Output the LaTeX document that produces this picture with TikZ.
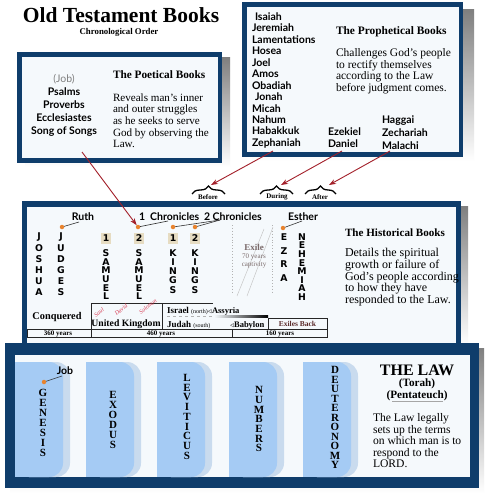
\documentclass[tikz,border=0pt]{standalone}
\usepackage{fontspec}
\setmainfont{Liberation Serif}
\newfontfamily\sansf{Lato}
\newfontfamily\dejaf{DejaVu Sans}
\usetikzlibrary{arrows.meta,decorations.pathreplacing}
\definecolor{navy}{HTML}{0F3D6B}
\definecolor{panel}{HTML}{F5F9FC}
\definecolor{shade}{HTML}{2E2E2E}
\definecolor{arrowred}{HTML}{A3202A}
\definecolor{dotc}{HTML}{E8832E}
\definecolor{tabdark}{HTML}{A5CBF4}
\definecolor{tablight}{HTML}{C9DBEE}
\definecolor{redname}{HTML}{D8374F}
\definecolor{exilec}{HTML}{7A6A6A}
\definecolor{beige}{HTML}{E6DCC2}
\definecolor{exback}{HTML}{5B2B2B}
\newcommand\fs[1]{\fontsize{#1}{#1}\selectfont}
\newcommand\lineset[6]{\foreach \lx [count=\i] in {#6} {\node[#2] (#1\i) at (#3,{#4+(\i-1)*#5}) {\lx};}}
\begin{document}
\begin{tikzpicture}[x=1pt,y=-1pt,
 every node/.style={inner sep=0pt,outer sep=0pt},
 nm/.style={anchor=base,font=\sansf\bfseries\fs{10.5}},
 nml/.style={anchor=base west,font=\sansf\bfseries\fs{10.5}},
 hl/.style={font=\dejaf\bfseries\fs{9.3}},
 ll/.style={font=\bfseries\fs{11}},
 head/.style={anchor=base west,font=\bfseries\fs{#1}},
 desc/.style={anchor=base west,font=\fs{#1}},
 lbl/.style={font=\bfseries\fs{7}},
 dot/.style={circle,fill=dotc,minimum size=4.5pt},
 link/.style={draw=black!80,line width=0.6pt},
 redarrow/.style={draw=arrowred,line width=0.9pt,-{Stealth[length=7pt,width=5pt]}},
 brc/.style={decorate,decoration={brace,amplitude=8pt},line width=1.3pt},
 tbl/.style={draw=black!85,line width=0.6pt},
 yrs/.style={anchor=base,font=\bfseries\fs{7}},
 redn/.style={font=\itshape\fs{5.8},text=redname,rotate=38},
 numbox/.style={fill=beige,minimum width=10pt,minimum height=11pt,font=\dejaf\bfseries\fs{9.3}}
]
\useasboundingbox (0,0) rectangle (491,500);
\fill[white] (0,0) rectangle (491,500);

% title
\node[font=\bfseries\fs{21.5}] (title) at (121,15) {Old Testament Books};
\node[font=\bfseries\fs{8.8}] (sub) at (119,32) {Chronological Order};

% poetical box
\fill[shade] (25,58) rectangle (230,167);
\fill[navy] (17,52) rectangle (222,163);
\fill[panel] (22,57) rectangle (218,158);
\node[anchor=base,font=\sansf\fs{10.5},text=gray] (job1) at (64,82.5) {(Job)};
\lineset{poe}{nm}{64}{95.5}{13}{Psalms,Proverbs,Ecclesiastes,Song of Songs}
\node[head=11.3] (poeh) at (113,79) {The Poetical Books};
\lineset{poed}{desc=11.1}{113}{101.5}{11.5}{Reveals man’s inner,and outer struggles,as he seeks to serve,God by observing the,Law.}
\coordinate (poeA) at (82,152);

% prophetical box
\fill[shade] (252,10) rectangle (474,161);
\fill[navy] (242,2) rectangle (463,157);
\fill[panel] (247,7) rectangle (459,152);
\lineset{pro}{nml}{252}{20.5}{11.45}{\hspace{3pt}Isaiah,Jeremiah,Lamentations,Hosea,Joel,Amos,Obadiah,\hspace{3pt}Jonah,Micah,Nahum,Habakkuk,Zephaniah}
\node[head=11.4] (proh) at (336,35) {The Prophetical Books};
\lineset{prod}{desc=11.5}{336}{56.5}{11.6}{Challenges God’s people,to rectify themselves,according to the Law,before judgment comes.}
\lineset{durn}{nml}{328}{135.5}{12}{Ezekiel,Daniel}
\lineset{aftn}{nml}{382}{123.5}{13}{Haggai,Zechariah,Malachi}
\coordinate (proA) at (273,151);
\coordinate (durA) at (342,151);
\coordinate (aftA) at (390,151);

% braces
\draw[brc] (192,194) -- (225,194);
\node[lbl] (lbBef) at (208,197.5) {Before};
\draw[brc] (260,194) -- (293,194);
\node[lbl] (lbDur) at (277,197) {During};
\draw[brc] (305,194) -- (336,194);
\node[lbl] (lbAft) at (320,197.5) {After};
\coordinate (tBef) at (211,185);
\coordinate (tDur) at (281,185);
\coordinate (tAft) at (329,185);

% historical box
\fill[shade] (27,206) rectangle (468,345);
\fill[navy] (22,201) rectangle (461,345);
\fill[panel] (27,207) rectangle (456,345);

\node[anchor=base,font=\sansf\bfseries\fs{10.5}] (ruth) at (83,220.5) {Ruth};
\node[anchor=base west,font=\sansf\bfseries\fs{10.5}] (chr1) at (139,220.5) {1\ \ Chronicles};
\node[anchor=base west,font=\sansf\bfseries\fs{10.5}] (chr2) at (204,220.5) {2 Chronicles};
\node[anchor=base,font=\sansf\bfseries\fs{10.5}] (esth) at (303,220.5) {Esther};
\node[dot] (dRuth) at (62,227) {};
\node[dot] (dSam) at (138,227) {};
\node[dot] (dK1) at (173,227) {};
\node[dot] (dK2) at (195,227) {};
\node[dot] (dEst) at (283,228) {};
\coordinate (cRuth) at (79,222);
\coordinate (cChr1) at (168,221);
\coordinate (cChr2) at (220,220);
\coordinate (cEst) at (302,221);
\draw[link] (dRuth) -- (cRuth);
\draw[link] (dSam) -- (cChr1);
\draw[link] (dK1) -- (cChr2);
\draw[link] (dK2) -- (cChr2);
\draw[link] (dEst) -- (cEst);

\lineset{josh}{hl}{39}{237}{11}{J,O,S,H,U,A}
\lineset{judg}{hl}{61}{237}{11}{J,U,D,G,E,S}
\node[numbox] (n1s) at (106,238) {1};
\lineset{sama}{hl}{106}{253}{8.7}{S,A,M,U,E,L}
\node[numbox] (n2s) at (139,238) {2};
\lineset{samb}{hl}{139}{253}{8.7}{S,A,M,U,E,L}
\node[numbox] (n1k) at (173,238) {1};
\lineset{kina}{hl}{173}{253}{9.2}{K,I,N,G,S}
\node[numbox] (n2k) at (195,238) {2};
\lineset{kinb}{hl}{195}{253}{9.2}{K,I,N,G,S}
\lineset{ezra}{hl}{284}{237}{13.8}{E,Z,R,A}
\lineset{nehe}{hl}{302}{237}{8.6}{N,E,H,E,M,I,A,H}

% exile
\draw[gray!60,dotted,line width=0.9pt] (232,225) -- (232,293);
\draw[gray!60,dotted,line width=0.9pt] (272,225) -- (272,293);
\draw[gray!45,line width=0.5pt] (237,296) -- (264,229);
\draw[gray!45,line width=0.5pt] (247,296) -- (273,227);
\node[font=\bfseries\fs{9},text=exilec] (exile) at (254,247) {Exile};
\node[font=\fs{7},text=exilec] (ex70) at (254,257) {70 years};
\node[font=\fs{7},text=exilec] (excap) at (254,265) {captivity};

\node[head=11.1] (hish) at (345,236) {The Historical Books};
\lineset{hisd}{desc=12}{345}{256.5}{11.8}{Details the spiritual,growth or failure of,God’s people according,to how they have,responded to the Law.}

% table
\node[anchor=base,font=\bfseries\fs{10.3}] (conq) at (57,319.5) {Conquered};
\draw[tbl] (91,329) -- (91,303) -- (213,303);
\draw[tbl] (162,303) -- (162,329);
\node[anchor=base,font=\bfseries\fs{9.7}] (uk) at (126,326) {United Kingdom};
\node[redn] (saul) at (99,312.5) {Saul};
\node[redn] (david) at (121,310) {David};
\node[redn] (solo) at (148,306.5) {Solomon};
\node[anchor=base west,font=\bfseries\fs{9}] (isr) at (167,313) {Israel {\mdseries\fs{6}(north)}{\fs{7}$\triangleleft$}{\fs{8.5}Assyria}};
\draw[gray!60,dashed,line width=0.8pt] (167,316.5) -- (213,316.5);
\shade[left color=panel,right color=black] (214,315.5) rectangle (268,317.3);
\node[anchor=base west,font=\bfseries\fs{9}] (jud) at (167,327) {Judah {\mdseries\fs{6}(south)}};
\node[anchor=base west,font=\bfseries\fs{8.5}] (bab) at (230,327) {{\fs{7}$\triangleleft$}Babylon};
\draw[tbl] (268,318) rectangle (327,329);
\node[font=\bfseries\fs{7.5},text=exback] (exb) at (297.5,323.5) {Exiles Back};
\draw[tbl] (27,329) rectangle (327,337);
\draw[tbl] (91,329) -- (91,337);
\draw[tbl] (232,329) -- (232,337);
\node[yrs] (y360) at (58,335.5) {360 years};
\node[yrs] (y460) at (161,335.5) {460 years};
\node[yrs] (y160) at (280,335.5) {160 years};

% law box
\fill[shade] (10,348) rectangle (484,493);
\fill[navy] (5,343) rectangle (479,488);
\fill[panel] (15,355) rectangle (470,477);
\foreach \x [count=\i] in {15,86,157,229,303} {
  \fill[tablight,rounded corners=14pt] (\x,362) rectangle (\x+55,477);
  \fill[tablight] (\x,362) rectangle (\x+20,477);
  \fill[tabdark,rounded corners=14pt] (\x,362) rectangle (\x+48,477);
  \fill[tabdark] (\x,362) rectangle (\x+20,477);
}
\lineset{gen}{ll}{43}{393}{10}{G,E,N,E,S,I,S}
\lineset{exo}{ll}{113}{395}{10}{E,X,O,D,U,S}
\lineset{lev}{ll}{187}{378}{9.7}{L,E,V,I,T,I,C,U,S}
\lineset{num}{ll}{259}{390}{9.7}{N,U,M,B,E,R,S}
\lineset{deu}{ll}{335}{370}{9.5}{D,E,U,T,E,R,O,N,O,M,Y}
\node[font=\sansf\bfseries\fs{10.5}] (job2) at (65,371) {Job};
\node[dot] (dJob) at (44,382) {};
\coordinate (cJob) at (62,376);
\draw[link] (dJob) -- (cJob);

\node[font=\bfseries\fs{16}] (law) at (417,370) {THE LAW};
\node[font=\bfseries\fs{11.2}] (tor) at (417,384) {(Torah)};
\node[font=\bfseries\fs{11.2}] (pent) at (417,396) {(Pentateuch)};
\draw[gray!70,line width=0.7pt] (392,401) -- (443,401);
\lineset{lawd}{desc=11.6}{373}{421.5}{11.6}{The Law legally,sets up the terms,on which man is to,respond to the,LORD.}

% red arrows
\draw[redarrow] (poeA) -- (dSam);
\draw[redarrow] (proA) -- (tBef);
\draw[redarrow] (durA) -- (tDur);
\draw[redarrow] (aftA) -- (tAft);
\end{tikzpicture}
\end{document}
